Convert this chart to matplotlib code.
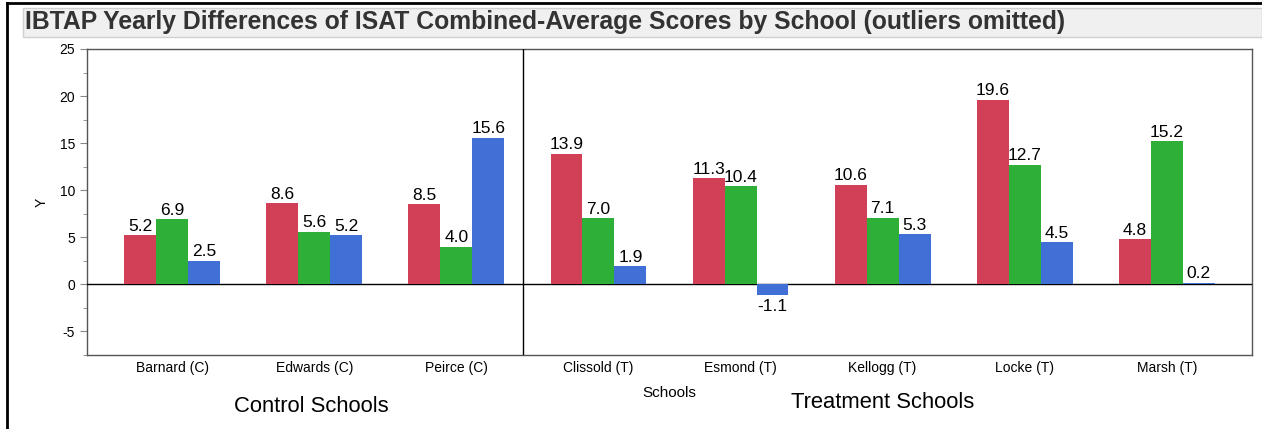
import numpy as np
import matplotlib.pyplot as plt
from matplotlib.patches import Rectangle

plt.rcParams['font.family'] = ['Liberation Sans', 'DejaVu Sans']
plt.rcParams['axes.unicode_minus'] = False

schools = ["Barnard (C)", "Edwards (C)", "Peirce (C)", "Clissold (T)",
           "Esmond (T)", "Kellogg (T)", "Locke (T)", "Marsh (T)"]
year1 = [5.2, 8.6, 8.5, 13.9, 11.3, 10.6, 19.6, 4.8]
year2 = [6.9, 5.6, 4.0, 7.0, 10.4, 7.1, 12.7, 15.2]
year3 = [2.5, 5.2, 15.6, 1.9, -1.1, 5.3, 4.5, 0.2]
colors = ["#d24058", "#2eaf38", "#4070d6"]
n_control = 3

fig = plt.figure(figsize=(12.62, 4.29), dpi=100)
W, H = 1262, 429

# outer frame and title band
fig.add_artist(plt.Line2D([7 / W, 7 / W], [0, 1 - 3 / H], color="black", lw=2,
                          transform=fig.transFigure))
fig.add_artist(plt.Line2D([7 / W, 1], [1 - 3 / H, 1 - 3 / H], color="black", lw=2,
                          transform=fig.transFigure))
fig.add_artist(Rectangle((23 / W, 1 - 37 / H), 1 - 23 / W, 29 / H,
                         transform=fig.transFigure, facecolor="#f0f0f0",
                         edgecolor="#d0d0d0", lw=1))
fig.text(25 / W, 1 - 22 / H, "IBTAP Yearly Differences of ISAT Combined-Average Scores by School (outliers omitted)",
         fontsize=17.8, fontweight="bold", color="#333333", va="center", ha="left")

ax = fig.add_axes([87 / W, 1 - 355 / H, (1252 - 87) / W, (355 - 49) / H])
x = np.arange(len(schools))
w = 0.225
for k, vals in enumerate([year1, year2, year3]):
    bars = ax.bar(x + (k - 1) * w, vals, w, color=colors[k], zorder=4)
    for b, v in zip(bars, vals):
        cx = b.get_x() + b.get_width() / 2
        if v >= 0:
            ax.annotate(f"{v:.1f}", (cx, v), xytext=(0, 1), textcoords="offset points",
                        ha="center", va="bottom", fontsize=12.5)
        else:
            ax.annotate(f"{v:.1f}", (cx, v), xytext=(0, -3), textcoords="offset points",
                        ha="center", va="top", fontsize=12.5)

ax.axhline(0, color="black", lw=1, zorder=3)
ax.axvline(n_control - 0.53, color="black", lw=1, zorder=3)
ax.set_xlim(-0.6, len(schools) - 0.4)
ax.set_ylim(-7.5, 25)
ax.set_yticks(np.arange(-5, 26, 5))
ax.set_yticks(np.arange(-7.5, 25, 2.5), minor=True)
ax.set_xticks(x)
ax.set_xticklabels(schools, fontsize=10)
ax.tick_params(axis="x", length=0, pad=4)
ax.tick_params(axis="y", labelsize=10, length=5, color="#888888")
ax.tick_params(axis="y", which="minor", length=3, color="#888888")
for s in ax.spines.values():
    s.set_color("#555555")
    s.set_linewidth(1)
ax.set_ylabel("Y", fontsize=10, labelpad=8)
ax.set_xlabel("Schools", fontsize=11, labelpad=8)

fig.text(311 / W, 1 - 406 / H, "Control Schools", fontsize=15.8, ha="center", va="center")
fig.text(883 / W, 1 - 403 / H, "Treatment Schools", fontsize=15.8, ha="center", va="center")

plt.savefig("out.png", dpi=100)
